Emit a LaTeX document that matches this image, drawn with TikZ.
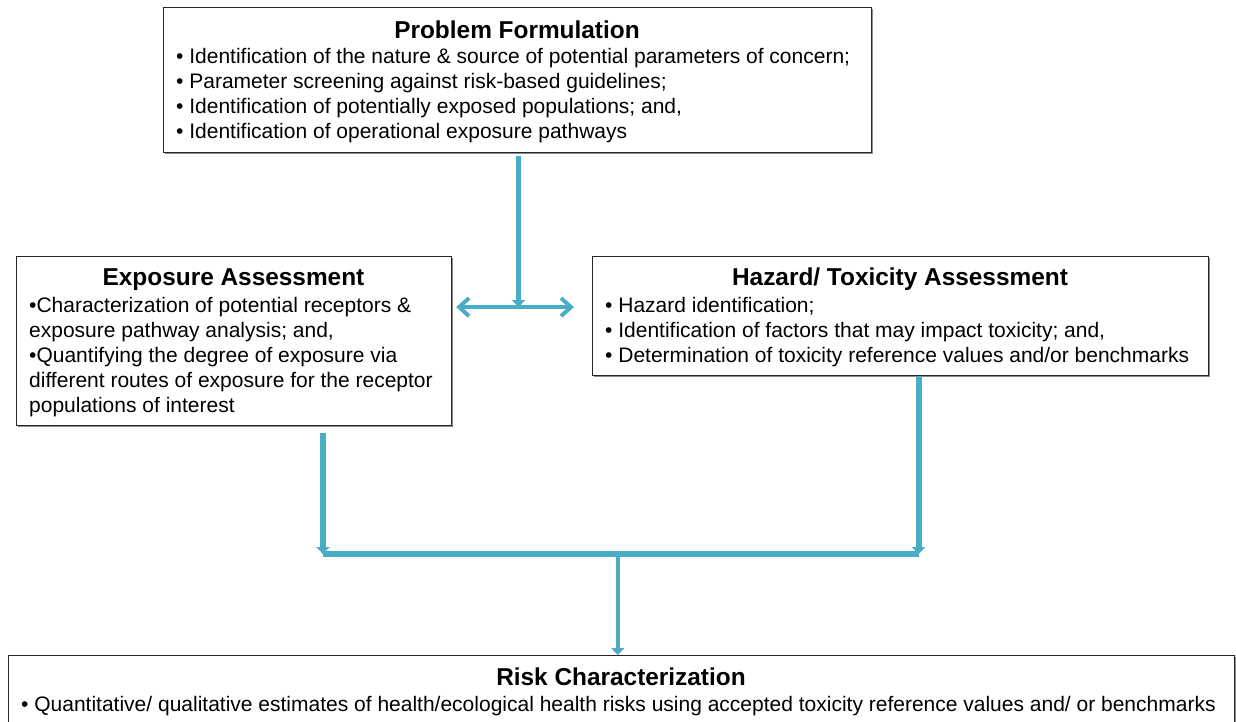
\documentclass[tikz,border=0pt]{standalone}
\usepackage{fontspec}
\setmainfont{Liberation Sans}
\usetikzlibrary{arrows.meta,calc,shadows}
\definecolor{flowblue}{HTML}{4BACC6}
\definecolor{boxline}{HTML}{262626}
\begin{document}
\begin{tikzpicture}[x=1pt,y=-1pt,
  box/.style={draw=boxline, line width=1.1pt, fill=white, inner sep=0pt, anchor=north west,
    drop shadow={shadow xshift=1.3pt, shadow yshift=-1.3pt, fill=black!45, opacity=1}},
  boxtitle/.style={font=\fontsize{24.4}{28}\selectfont\bfseries, inner sep=0pt, anchor=base},
  boxbody/.style={font=\fontsize{21}{25}\selectfont, align=left, inner sep=0pt, anchor=base west},
  flow/.style={draw=flowblue, line width=5.5pt},
  smallhead/.style={-{Triangle[width=13pt,length=7pt]}},
  barbs/.style={{Straight Barb[length=10pt,width=18pt]}-{Straight Barb[length=10pt,width=18pt]}}
]
\useasboundingbox (0,0) rectangle (1236,721);

% boxes
\node[box, minimum width=708pt, minimum height=145pt] (pf) at (163,7) {};
\node[box, minimum width=435pt, minimum height=169pt] (ea) at (16,256) {};
\node[box, minimum width=616pt, minimum height=119pt] (ha) at (592,256) {};
\node[box, minimum width=1226pt, minimum height=90pt] (rc) at (8,655) {};

% texts (multi-line bodies are anchored at the baseline of their last line)
\node[boxtitle] (pft) at (517,38) {Problem Formulation};
\node[boxbody] (pfb) at (176,138) {• Identification of the nature \& source of potential parameters of concern;\\
• Parameter screening against risk-based guidelines;\\
• Identification of potentially exposed populations; and,\\
• Identification of operational exposure pathways};

\node[boxtitle] (eat) at (233.5,285) {Exposure Assessment};
\node[boxbody] (eab) at (29,412) {•Characterization of potential receptors \&\\
exposure pathway analysis; and,\\
•Quantifying the degree of exposure via\\
different routes of exposure for the receptor\\
populations of interest};

\node[boxtitle] (hat) at (900,285) {Hazard/ Toxicity Assessment};
\node[boxbody] (hab) at (605,362) {• Hazard identification;\\
• Identification of factors that may impact toxicity; and,\\
• Determination of toxicity reference values and/or benchmarks};

\node[boxtitle] (rct) at (621,685) {Risk Characterization};
\node[boxbody] (rcb) at (21,711) {• Quantitative/ qualitative estimates of health/ecological health risks using accepted toxicity reference values and/ or benchmarks};

% connectors
\coordinate (j1) at ($(pf.south)+(1,154)$);
\coordinate (dl) at ($(ea.east |- j1)+(4,0)$);
\coordinate (dr) at ($(ha.west |- j1)+(-18,0)$);
\coordinate (bl) at ($(ea.south west)+(307,128)$);
\coordinate (br) at ($(ha.south)+(18,178)$);
\coordinate (bm) at ($(bl)!0.495!(br)$);

\draw[flow, line width=5pt, smallhead] ($(pf.south)+(1,3)$) -- (j1);
\draw[flow, line width=4pt, barbs] (dl) -- (dr);
\draw[flow, line width=6pt, smallhead] ($(ea.south west)+(307,7)$) -- (bl);
\draw[flow, line width=6pt, smallhead] (ha.south -| br) -- (br);
\draw[flow, line width=6pt] (bl) -- (br);
\draw[flow, line width=4.5pt, smallhead] (bm) -- (bm |- rc.north);
\end{tikzpicture}
\end{document}
